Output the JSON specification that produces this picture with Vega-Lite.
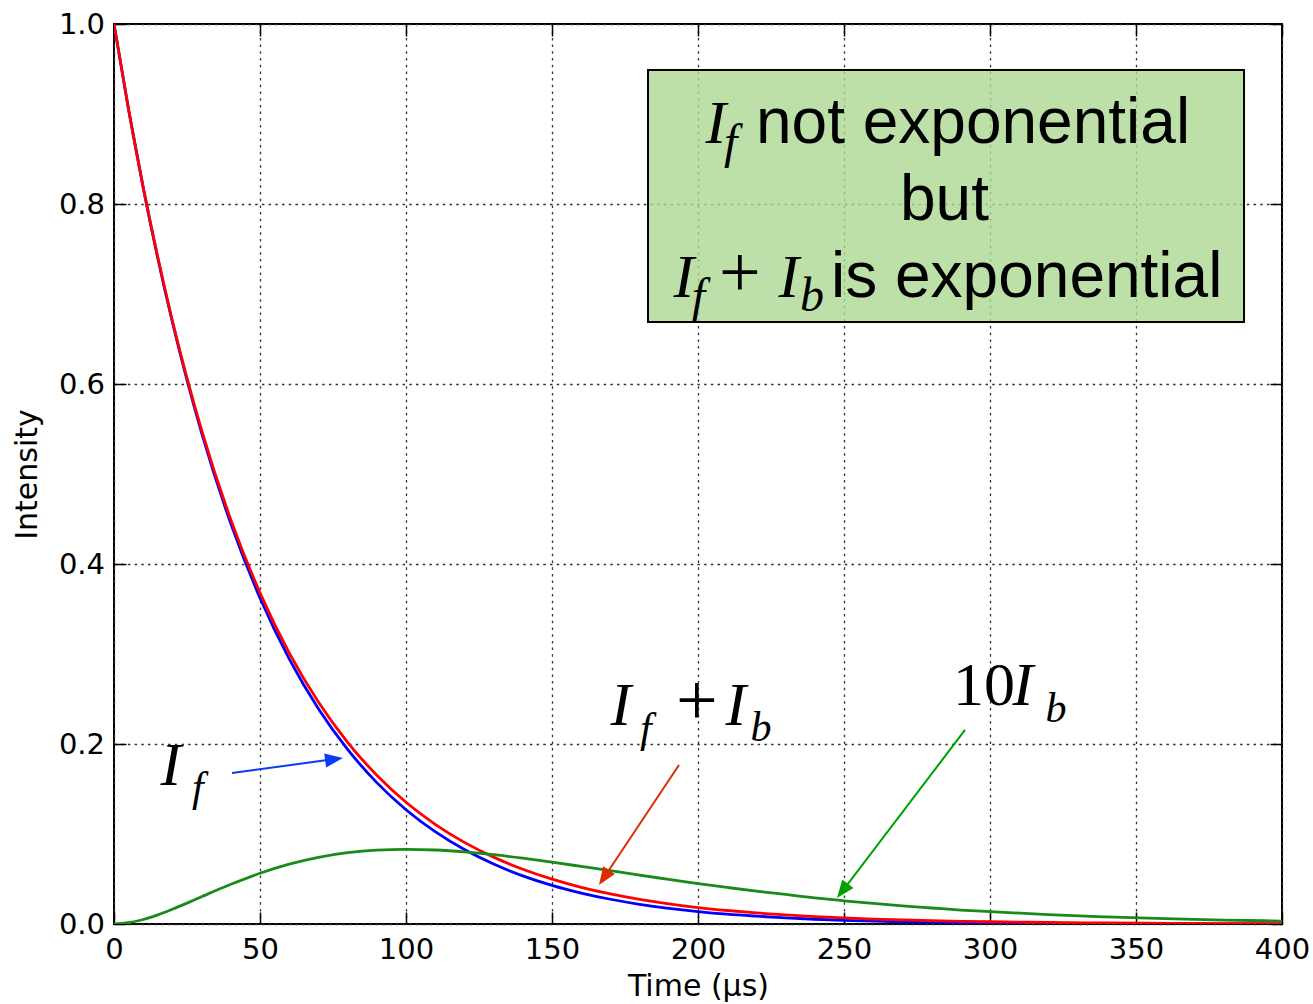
{
  "$schema": "https://vega.github.io/schema/vega-lite/v6.json",
  "width": 1168,
  "height": 900,
  "autosize": {"type": "none"},
  "padding": {"left": 114, "top": 24, "right": 31, "bottom": 80},
  "background": "white",
  "config": {
    "view": {"stroke": "black", "strokeWidth": 2},
    "axis": {
      "labelFont": "DejaVu Sans", "labelFontSize": 29, "labelColor": "black",
      "titleFont": "DejaVu Sans", "titleFontSize": 30, "titleFontWeight": "normal", "titleColor": "black",
      "domain": false, "tickColor": "black", "tickWidth": 1.5, "tickSize": -12,
      "gridColor": "#333333", "gridWidth": 1.3, "gridDash": [2.5, 4.2], "gridOpacity": 1,
      "labelOverlap": false, "labelFlush": false
    }
  },
  "datasets": {
    "curves": [
      {"t": 0, "If": 1.0, "IfIb": 1.0, "Ib10": 0.0},
      {"t": 5, "If": 0.9047, "IfIb": 0.9048, "Ib10": 0.0014},
      {"t": 10, "If": 0.8182, "IfIb": 0.8187, "Ib10": 0.0050},
      {"t": 15, "If": 0.7398, "IfIb": 0.7408, "Ib10": 0.0102},
      {"t": 20, "If": 0.6687, "IfIb": 0.6703, "Ib10": 0.0164},
      {"t": 25, "If": 0.6042, "IfIb": 0.6065, "Ib10": 0.0232},
      {"t": 30, "If": 0.5458, "IfIb": 0.5488, "Ib10": 0.0303},
      {"t": 40, "If": 0.4449, "IfIb": 0.4493, "Ib10": 0.0441},
      {"t": 50, "If": 0.3623, "IfIb": 0.3679, "Ib10": 0.0564},
      {"t": 60, "If": 0.2946, "IfIb": 0.3012, "Ib10": 0.0665},
      {"t": 70, "If": 0.2392, "IfIb": 0.2466, "Ib10": 0.0741},
      {"t": 80, "If": 0.1940, "IfIb": 0.2019, "Ib10": 0.0792},
      {"t": 90, "If": 0.1571, "IfIb": 0.1653, "Ib10": 0.0821},
      {"t": 100, "If": 0.1270, "IfIb": 0.1353, "Ib10": 0.0830},
      {"t": 110, "If": 0.1026, "IfIb": 0.1108, "Ib10": 0.0822},
      {"t": 120, "If": 0.0827, "IfIb": 0.0907, "Ib10": 0.0801},
      {"t": 130, "If": 0.0666, "IfIb": 0.0743, "Ib10": 0.0770},
      {"t": 140, "If": 0.0535, "IfIb": 0.0608, "Ib10": 0.0731},
      {"t": 150, "If": 0.0429, "IfIb": 0.0498, "Ib10": 0.0687},
      {"t": 160, "If": 0.0344, "IfIb": 0.0408, "Ib10": 0.0640},
      {"t": 170, "If": 0.0275, "IfIb": 0.0334, "Ib10": 0.0592},
      {"t": 180, "If": 0.0219, "IfIb": 0.0273, "Ib10": 0.0542},
      {"t": 190, "If": 0.0174, "IfIb": 0.0224, "Ib10": 0.0496},
      {"t": 200, "If": 0.0138, "IfIb": 0.0183, "Ib10": 0.0449},
      {"t": 210, "If": 0.0109, "IfIb": 0.0150, "Ib10": 0.0406},
      {"t": 220, "If": 0.0087, "IfIb": 0.0123, "Ib10": 0.0365},
      {"t": 230, "If": 0.0068, "IfIb": 0.0101, "Ib10": 0.0328},
      {"t": 240, "If": 0.0053, "IfIb": 0.0082, "Ib10": 0.0290},
      {"t": 250, "If": 0.0041, "IfIb": 0.0067, "Ib10": 0.0258},
      {"t": 260, "If": 0.0032, "IfIb": 0.0055, "Ib10": 0.0228},
      {"t": 270, "If": 0.0025, "IfIb": 0.0045, "Ib10": 0.0201},
      {"t": 280, "If": 0.0019, "IfIb": 0.0037, "Ib10": 0.0178},
      {"t": 290, "If": 0.0015, "IfIb": 0.0030, "Ib10": 0.0155},
      {"t": 300, "If": 0.0011, "IfIb": 0.0025, "Ib10": 0.0138},
      {"t": 320, "If": 0.0007, "IfIb": 0.0017, "Ib10": 0.0104},
      {"t": 340, "If": 0.0003, "IfIb": 0.0011, "Ib10": 0.0079},
      {"t": 360, "If": 0.0001, "IfIb": 0.0007, "Ib10": 0.0059},
      {"t": 380, "If": 0.0001, "IfIb": 0.0005, "Ib10": 0.0044},
      {"t": 400, "If": 0.0000, "IfIb": 0.0003, "Ib10": 0.0033}
    ],
    "box": [{"x0": 182.88, "x1": 386.99, "y0": 0.9489, "y1": 0.6689}],
    "arrows": [
      {"name": "blue", "x0": 40.41, "y0": 0.1678, "x1": 74.32, "y1": 0.1827, "tx": 78.42, "ty": 0.1844},
      {"name": "red", "x0": 193.49, "y0": 0.1767, "x1": 168.39, "y1": 0.0544, "tx": 166.10, "ty": 0.0433},
      {"name": "green", "x0": 291.44, "y0": 0.2156, "x1": 250.10, "y1": 0.0394, "tx": 247.60, "ty": 0.0289}
    ],
    "sans": [
      {"text": "not exponential", "x": 219.86, "y": 0.8678},
      {"text": "but", "x": 269.18, "y": 0.7822},
      {"text": "is exponential", "x": 245.55, "y": 0.6967}
    ],
    "italicI": [
      {"text": "I", "x": 202.57, "y": 0.8678},
      {"text": "I", "x": 191.61, "y": 0.6967},
      {"text": "I", "x": 227.57, "y": 0.6967},
      {"text": "I", "x": 15.92, "y": 0.1544},
      {"text": "I", "x": 170.03, "y": 0.2211},
      {"text": "I", "x": 209.42, "y": 0.2211},
      {"text": "I", "x": 307.71, "y": 0.2433}
    ],
    "subBox": [
      {"text": "f", "x": 208.9, "y": 0.8511},
      {"text": "f", "x": 197.9, "y": 0.68},
      {"text": "b", "x": 234.93, "y": 0.6811}
    ],
    "subLabel": [
      {"text": "f", "x": 26.7, "y": 0.1367},
      {"text": "f", "x": 180.1, "y": 0.2022},
      {"text": "b", "x": 217.98, "y": 0.2028},
      {"text": "b", "x": 319.01, "y": 0.2244}
    ],
    "numbers": [{"text": "10", "x": 287.33, "y": 0.2433}],
    "plus": [
      {"text": "+", "x": 207.2, "y": 0.6967},
      {"text": "+", "x": 192.47, "y": 0.2211}
    ]
  },
  "layer": [
    {
      "layer": [
        {
          "data": {"name": "box"},
          "mark": {"type": "rect", "fill": "#acd894", "fillOpacity": 0.8, "stroke": "black", "strokeWidth": 2},
          "encoding": {
            "x": {"field": "x0", "type": "quantitative", "title": "Time (μs)",
                  "scale": {"domain": [0, 400], "nice": false, "zero": false},
                  "axis": {"values": [0, 50, 100, 150, 200, 250, 300, 350, 400], "format": "d", "labelPadding": 23, "titlePadding": 7, "grid": true}},
            "x2": {"field": "x1"},
            "y": {"field": "y0", "type": "quantitative", "title": "Intensity",
                  "scale": {"domain": [0, 1], "nice": false, "zero": false},
                  "axis": {"values": [0, 0.2, 0.4, 0.6, 0.8, 1.0], "format": ".1f", "labelPadding": 21.5, "titlePadding": 16, "grid": true}},
            "y2": {"field": "y1"}
          }
        },
        {
          "data": {"name": "curves"},
          "mark": {"type": "line", "color": "#0000ff", "strokeWidth": 2.8, "interpolate": "monotone", "clip": true},
          "encoding": {
            "x": {"field": "t", "type": "quantitative", "title": "Time (μs)"},
            "y": {"field": "If", "type": "quantitative", "title": "Intensity"}
          }
        },
        {
          "data": {"name": "curves"},
          "mark": {"type": "line", "color": "#ff0000", "strokeWidth": 2.8, "interpolate": "monotone", "clip": true},
          "encoding": {
            "x": {"field": "t", "type": "quantitative", "title": "Time (μs)"},
            "y": {"field": "IfIb", "type": "quantitative", "title": "Intensity"}
          }
        },
        {
          "data": {"name": "curves"},
          "mark": {"type": "line", "color": "#1a8a1a", "strokeWidth": 2.8, "interpolate": "monotone", "clip": true},
          "encoding": {
            "x": {"field": "t", "type": "quantitative", "title": "Time (μs)"},
            "y": {"field": "Ib10", "type": "quantitative", "title": "Intensity"}
          }
        },
        {
          "data": {"name": "arrows"},
          "transform": [{"filter": "datum.name === 'blue'"}],
          "mark": {"type": "rule", "color": "#0a3cf5", "strokeWidth": 2},
          "encoding": {
            "x": {"field": "x0", "type": "quantitative", "title": "Time (μs)"},
            "y": {"field": "y0", "type": "quantitative", "title": "Intensity"},
            "x2": {"field": "x1"}, "y2": {"field": "y1"}
          }
        },
        {
          "data": {"name": "arrows"},
          "transform": [{"filter": "datum.name === 'blue'"}],
          "mark": {"type": "point", "shape": "M0,0L0.78,2L-0.78,2Z", "size": 324, "angle": 82.3, "filled": true, "color": "#0a3cf5", "opacity": 1, "strokeWidth": 0},
          "encoding": {
            "x": {"field": "tx", "type": "quantitative", "title": "Time (μs)"},
            "y": {"field": "ty", "type": "quantitative", "title": "Intensity"}
          }
        },
        {
          "data": {"name": "arrows"},
          "transform": [{"filter": "datum.name === 'red'"}],
          "mark": {"type": "rule", "color": "#e02a00", "strokeWidth": 2},
          "encoding": {
            "x": {"field": "x0", "type": "quantitative", "title": "Time (μs)"},
            "y": {"field": "y0", "type": "quantitative", "title": "Intensity"},
            "x2": {"field": "x1"}, "y2": {"field": "y1"}
          }
        },
        {
          "data": {"name": "arrows"},
          "transform": [{"filter": "datum.name === 'red'"}],
          "mark": {"type": "point", "shape": "M0,0L0.78,2L-0.78,2Z", "size": 324, "angle": 213.7, "filled": true, "color": "#e02a00", "opacity": 1, "strokeWidth": 0},
          "encoding": {
            "x": {"field": "tx", "type": "quantitative", "title": "Time (μs)"},
            "y": {"field": "ty", "type": "quantitative", "title": "Intensity"}
          }
        },
        {
          "data": {"name": "arrows"},
          "transform": [{"filter": "datum.name === 'green'"}],
          "mark": {"type": "rule", "color": "#00a000", "strokeWidth": 2},
          "encoding": {
            "x": {"field": "x0", "type": "quantitative", "title": "Time (μs)"},
            "y": {"field": "y0", "type": "quantitative", "title": "Intensity"},
            "x2": {"field": "x1"}, "y2": {"field": "y1"}
          }
        },
        {
          "data": {"name": "arrows"},
          "transform": [{"filter": "datum.name === 'green'"}],
          "mark": {"type": "point", "shape": "M0,0L0.78,2L-0.78,2Z", "size": 324, "angle": 217.3, "filled": true, "color": "#00a000", "opacity": 1, "strokeWidth": 0},
          "encoding": {
            "x": {"field": "tx", "type": "quantitative", "title": "Time (μs)"},
            "y": {"field": "ty", "type": "quantitative", "title": "Intensity"}
          }
        },
        {
          "data": {"name": "sans"},
          "mark": {"type": "text", "font": "Liberation Sans", "fontSize": 64, "align": "left", "baseline": "alphabetic", "color": "black"},
          "encoding": {
            "x": {"field": "x", "type": "quantitative", "title": "Time (μs)"},
            "y": {"field": "y", "type": "quantitative", "title": "Intensity"},
            "text": {"field": "text"}
          }
        },
        {
          "data": {"name": "italicI"},
          "mark": {"type": "text", "font": "Liberation Serif", "fontStyle": "italic", "fontSize": 62, "align": "left", "baseline": "alphabetic", "color": "black"},
          "encoding": {
            "x": {"field": "x", "type": "quantitative", "title": "Time (μs)"},
            "y": {"field": "y", "type": "quantitative", "title": "Intensity"},
            "text": {"field": "text"}
          }
        },
        {
          "data": {"name": "subBox"},
          "mark": {"type": "text", "font": "Liberation Serif", "fontStyle": "italic", "fontSize": 48, "align": "left", "baseline": "alphabetic", "color": "black"},
          "encoding": {
            "x": {"field": "x", "type": "quantitative", "title": "Time (μs)"},
            "y": {"field": "y", "type": "quantitative", "title": "Intensity"},
            "text": {"field": "text"}
          }
        },
        {
          "data": {"name": "subLabel"},
          "mark": {"type": "text", "font": "Liberation Serif", "fontStyle": "italic", "fontSize": 42, "align": "left", "baseline": "alphabetic", "color": "black"},
          "encoding": {
            "x": {"field": "x", "type": "quantitative", "title": "Time (μs)"},
            "y": {"field": "y", "type": "quantitative", "title": "Intensity"},
            "text": {"field": "text"}
          }
        },
        {
          "data": {"name": "numbers"},
          "mark": {"type": "text", "font": "Liberation Serif", "fontSize": 62, "align": "left", "baseline": "alphabetic", "color": "black"},
          "encoding": {
            "x": {"field": "x", "type": "quantitative", "title": "Time (μs)"},
            "y": {"field": "y", "type": "quantitative", "title": "Intensity"},
            "text": {"field": "text"}
          }
        },
        {
          "data": {"name": "plus"},
          "mark": {"type": "text", "font": "Liberation Serif", "fontSize": 74, "align": "left", "baseline": "alphabetic", "color": "black"},
          "encoding": {
            "x": {"field": "x", "type": "quantitative", "title": "Time (μs)"},
            "y": {"field": "y", "type": "quantitative", "title": "Intensity"},
            "text": {"field": "text"}
          }
        }
      ]
    },
    {
      "data": {"name": "curves"},
      "mark": {"type": "point", "opacity": 0, "size": 1},
      "encoding": {
        "x": {"field": "t", "type": "quantitative",
              "scale": {"domain": [0, 400], "nice": false, "zero": false},
              "axis": {"orient": "top", "labels": false, "grid": false, "title": null, "values": [0, 50, 100, 150, 200, 250, 300, 350, 400]}},
        "y": {"field": "IfIb", "type": "quantitative",
              "scale": {"domain": [0, 1], "nice": false, "zero": false},
              "axis": {"orient": "right", "labels": false, "grid": false, "title": null, "values": [0, 0.2, 0.4, 0.6, 0.8, 1.0]}}
      }
    }
  ],
  "resolve": {"axis": {"x": "independent", "y": "independent"}}
}
